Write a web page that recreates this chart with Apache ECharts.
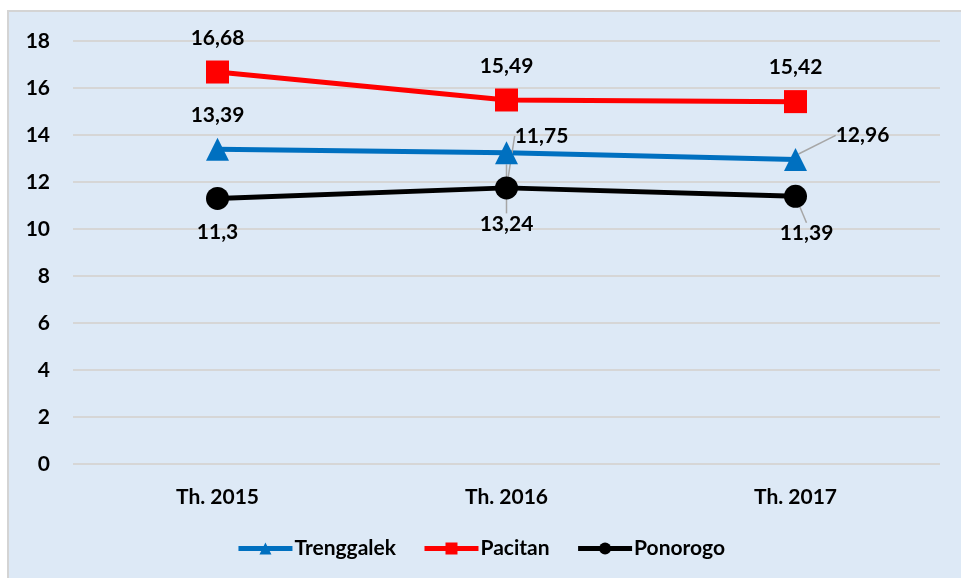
<!DOCTYPE html>
<html>
<head>
    <meta charset="utf-8">
    <style>
        html, body {
            margin: 0;
            padding: 0;
            background: #fff;
        }

        #chart-panel {
            width: 961px;
            height: 578px;
        }
    </style>
</head>
<body>
    <div id="chart-panel"></div>
    <script src="https://cdn.jsdelivr.net/npm/echarts@6/dist/echarts.min.js"></script>
    <script>
        var categories = ['Th. 2015', 'Th. 2016', 'Th. 2017'];
        var trenggalek = [13.39, 13.24, 12.96];
        var pacitan = [16.68, 15.49, 15.42];
        var ponorogo = [11.3, 11.75, 11.39];
        var yTicks = [0, 2, 4, 6, 8, 10, 12, 14, 16, 18];

        var font = 'Lato, "Open Sans", sans-serif';
        var txt = { color: '#000', fontWeight: 'bold', fontSize: 21, fontFamily: font };

        // label placement tweaks (moved labels like the original)
        var trengPos = ['top', 'bottom', 'top'];
        var trengMove = [[0, 0], [0, 37], [67, 10]];
        var ponoPos = ['bottom', 'top', 'bottom'];
        var ponoMove = [[0, 0], [35, -18], [11, 3]];

        function fmt(p) {
            return String(p.value).replace('.', ',');
        }

        function items(values, pos, moved) {
            return values.map(function (v, i) {
                var moveIt = moved && (moved[i][0] !== 0 || moved[i][1] !== 0);
                return {
                    value: v,
                    label: { position: pos ? pos[i] : 'top' },
                    labelLine: { show: !!moveIt }
                };
            });
        }

        function layoutFor(moved) {
            return function (params) {
                var m = moved[params.dataIndex];
                return { dx: m[0], dy: m[1] };
            };
        }

        var labelLineStyle = {
            lineStyle: { color: '#a6a6a6', width: 1.5 }
        };

        var dom = document.getElementById('chart-panel');
        var myChart = echarts.init(dom);

        var option = {
            animation: false,
            backgroundColor: '#fff',
            graphic: [
                {
                    type: 'rect',
                    z: -10,
                    shape: { x: 8, y: 11, width: 960, height: 580 },
                    style: { fill: '#dde9f6', stroke: '#d4d4d4', lineWidth: 2 }
                }
            ],
            grid: { left: 73, right: 21, top: 41, bottom: 114 },
            xAxis: {
                type: 'category',
                data: categories,
                axisLine: { show: false },
                axisTick: { show: false },
                axisLabel: Object.assign({ margin: 23 }, txt)
            },
            yAxis: {
                type: 'value',
                min: yTicks[0],
                max: yTicks[yTicks.length - 1],
                interval: 2,
                axisLine: { show: false },
                axisTick: { show: false },
                splitLine: { lineStyle: { color: '#d6d6d6', width: 2 } },
                axisLabel: Object.assign({ margin: 23 }, txt)
            },
            legend: {
                bottom: 14,
                left: 'center',
                itemWidth: 54,
                itemHeight: 15,
                itemGap: 26,
                lineStyle: { width: 5 },
                textStyle: Object.assign({ padding: [0, 0, 0, -3] }, txt),
                data: ['Trenggalek', 'Pacitan', 'Ponorogo']
            },
            series: [
                {
                    name: 'Trenggalek',
                    type: 'line',
                    data: items(trenggalek, trengPos, trengMove),
                    symbol: 'triangle',
                    symbolSize: 23,
                    color: '#0070c0',
                    lineStyle: { width: 5, color: '#0070c0' },
                    itemStyle: { color: '#0070c0' },
                    label: Object.assign({ show: true, distance: 12, formatter: fmt }, txt),
                    labelLine: labelLineStyle,
                    labelLayout: layoutFor(trengMove)
                },
                {
                    name: 'Pacitan',
                    type: 'line',
                    data: items(pacitan),
                    symbol: 'rect',
                    symbolSize: 23,
                    color: '#ff0000',
                    lineStyle: { width: 5, color: '#ff0000' },
                    itemStyle: { color: '#ff0000' },
                    label: Object.assign({ show: true, distance: 12, formatter: fmt }, txt)
                },
                {
                    name: 'Ponorogo',
                    type: 'line',
                    data: items(ponorogo, ponoPos, ponoMove),
                    symbol: 'circle',
                    symbolSize: 23,
                    color: '#000',
                    lineStyle: { width: 5, color: '#000' },
                    itemStyle: { color: '#000' },
                    label: Object.assign({ show: true, distance: 12, formatter: fmt }, txt),
                    labelLine: labelLineStyle,
                    labelLayout: layoutFor(ponoMove)
                }
            ]
        };

        myChart.setOption(option);
    </script>
</body>
</html>
